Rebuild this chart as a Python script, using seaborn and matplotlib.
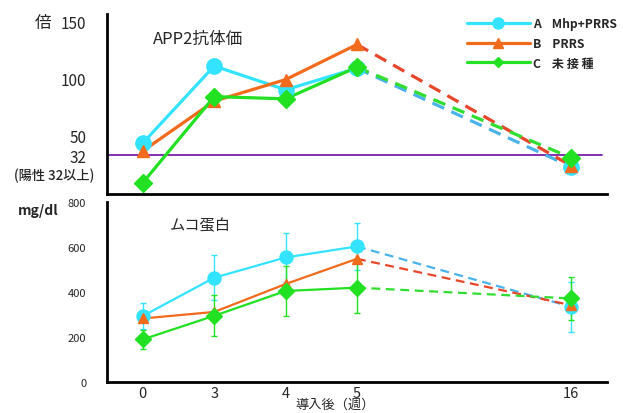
import pandas as pd
import matplotlib.pyplot as plt
import seaborn as sns
from matplotlib.lines import Line2D

# --- Data ---
weeks = ["0", "3", "4", "5", "16"]
groups = ["A", "B", "C"]
group_names = ["Mhp+PRRS", "PRRS", "未 接 種"]

app2_A = [43, 111, 90, 109, 22]
app2_B = [36, 80, 99, 130, 23]
app2_C = [8, 84, 82, 110, 30]
positive_cutoff = 32

muco_A = [293, 463, 553, 602, 334]
muco_B = [282, 311, 435, 547, 341]
muco_C = [189, 294, 404, 419, 371]
muco_err_A = [57, 100, 108, 104, 110]
muco_err_C = [42, 91, 112, 111, 97]

# --- Layout / style ---
X_POS = [0, 1, 2, 3, 6]          # week 16 is drawn after a gap
SOLID = ["#33e3ff", "#f26b1c", "#22e022"]
DASHED = ["#4ab4ea", "#e8462a", "#30dd30"]
MARKERS = ["o", "^", "D"]

sns.set_theme(style="white")
plt.rcParams['font.family'] = ['Noto Sans CJK JP', 'DejaVu Sans']


def long_frame(series):
    rows = []
    for g, vals in zip(groups, series):
        for w, x, v in zip(weeks, X_POS, vals):
            rows.append({"group": g, "week": w, "x": x, "value": v})
    return pd.DataFrame(rows)


def draw_panel(ax, df, lw, ms_scale, errs=None):
    for i, g in enumerate(groups):
        d = df[df["group"] == g]
        solid = d[d["x"] <= 3]
        dashed = d[d["x"] >= 3]
        sns.lineplot(data=dashed, x="x", y="value", ax=ax, color=DASHED[i],
                     lw=lw, linestyle=(0, (4, 2.5)), zorder=2, legend=False)
        if errs is not None and errs[i] is not None:
            ax.errorbar(d["x"], d["value"], yerr=errs[i], fmt="none",
                        ecolor=SOLID[i], elinewidth=1, capsize=2, zorder=1)
        sns.lineplot(data=solid, x="x", y="value", ax=ax, color=SOLID[i],
                     lw=lw, zorder=3, legend=False)
        ms = [11, 9, 9][i] * ms_scale
        ax.plot(d["x"], d["value"], ls="none", marker=MARKERS[i], ms=ms,
                color=SOLID[i], mec=SOLID[i], zorder=4)


def style_axis(ax):
    sns.despine(ax=ax)
    for s in ["left", "bottom"]:
        ax.spines[s].set_color("black")
        ax.spines[s].set_linewidth(2)
    ax.set_xlim(-0.5, 6.5)
    ax.set_xticks([0.5, 1.5, 2.5, 3.5, 4.5, 5.5, 6.5])
    ax.set_xticklabels([])
    ax.tick_params(axis="x", direction="in", length=5, width=1.5, color="black")
    ax.tick_params(axis="y", length=0, pad=15)
    ax.set_xlabel("")
    ax.set_ylabel("")


fig = plt.figure(figsize=(6.23, 4.14), dpi=100)
ax1 = fig.add_axes([0.172, 0.529, 0.802, 0.435])
ax2 = fig.add_axes([0.172, 0.075, 0.802, 0.435])

# --- Top: APP2 antibody titre ---
df_app2 = long_frame([app2_A, app2_B, app2_C])
draw_panel(ax1, df_app2, lw=2.3, ms_scale=1.0)
ax1.axhline(positive_cutoff, xmin=0, xmax=0.99, color="#7a1fa8", lw=1.3, zorder=0)
style_axis(ax1)
ax1.set_ylim(-2, 157)
ax1.set_yticks([32, 50, 100, 150])
ax1.set_yticklabels(["32", "50", "100", "150"], fontsize=11)
fig.text(0.056, 0.944, "倍", fontsize=12, ha="left", va="center")
fig.text(0.022, 0.575, "(陽性 32以上)", fontsize=9.5, weight="medium",
         ha="left", va="center")
fig.text(0.245, 0.905, "APP2抗体価", fontsize=12, ha="left", va="center")

handles = [Line2D([], [], color=SOLID[i], marker=MARKERS[i], lw=2.3,
                  ms=[8, 7, 5.5][i]) for i in range(3)]
labels = [f"{g}    {n}" for g, n in zip(groups, group_names)]
ax1.legend(handles, labels, loc="upper left", bbox_to_anchor=(0.715, 0.996),
           frameon=False, handlelength=5.2, handletextpad=0.3, labelspacing=0.56,
           borderaxespad=0, borderpad=0.2,
           prop={"weight": "bold", "size": 8.7})

# --- Bottom: mucoprotein ---
df_muco = long_frame([muco_A, muco_B, muco_C])
draw_panel(ax2, df_muco, lw=1.6, ms_scale=0.85,
           errs=[muco_err_A, None, muco_err_C])
style_axis(ax2)
ax2.set_ylim(0, 800)
ax2.set_yticks([0, 200, 400, 600, 800])
ax2.set_yticklabels(["0", "200", "400", "600", "800"], fontsize=8)
for x, w in zip(X_POS, weeks):
    ax2.text(x, -0.02, w, transform=ax2.get_xaxis_transform(),
             fontsize=10.5, ha="center", va="top")
fig.text(0.028, 0.49, "mg/dl", fontsize=10, weight="bold", ha="left", va="center")
fig.text(0.272, 0.455, "ムコ蛋白", fontsize=11, ha="left", va="center")
fig.text(0.538, 0.02, "導入後（週）", fontsize=9.5, ha="center", va="center")

fig.savefig("out.png", dpi=100)
